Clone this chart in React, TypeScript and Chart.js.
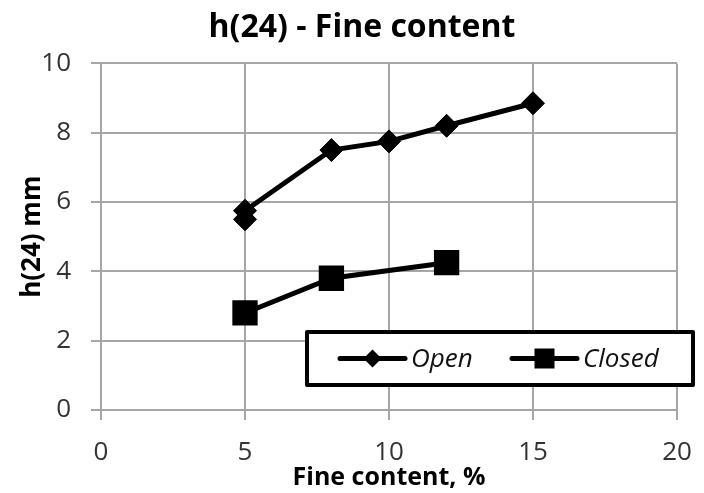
import React, { useEffect, useRef } from "react";
import { Chart, registerables } from "chart.js";

Chart.register(...registerables);

const seriesNames = ["Open", "Closed"];
const openX = [5, 5, 8, 10, 12, 15];
const openY = [5.5, 5.75, 7.5, 7.75, 8.2, 8.85];
const closedX = [5, 8, 12];
const closedY = [2.8, 3.8, 4.25];
const xTickValues = [0, 5, 10, 15, 20];
const yTickValues = [0, 2, 4, 6, 8, 10];
const titleText = "h(24) - Fine content";
const xTitle = "Fine content, %";
const yTitle = "h(24) mm";

const FONT = "'Open Sans', sans-serif";
const GRID = "#a6a6a6";

const legendPlugin = {
  id: "boxLegend",
  afterDraw(chart: any) {
    const { ctx, chartArea } = chart;
    const boxLeft = chartArea.left + 206;
    const boxRight = chartArea.right + 16;
    const boxTop = chartArea.bottom - 78;
    const boxBottom = chartArea.bottom - 25;
    ctx.save();
    ctx.fillStyle = "#ffffff";
    ctx.fillRect(boxLeft, boxTop, boxRight - boxLeft, boxBottom - boxTop);
    ctx.lineWidth = 4;
    ctx.strokeStyle = "#000000";
    ctx.lineJoin = "round";
    ctx.strokeRect(boxLeft, boxTop, boxRight - boxLeft, boxBottom - boxTop);
    const cy = (boxTop + boxBottom) / 2;
    const starts = [boxLeft + 33, boxLeft + 205];
    chart.data.datasets.forEach((ds: any, i: number) => {
      const x0 = starts[i];
      ctx.beginPath();
      ctx.moveTo(x0, cy);
      ctx.lineTo(x0 + 65, cy);
      ctx.lineWidth = 5;
      ctx.lineCap = "round";
      ctx.strokeStyle = "#000";
      ctx.stroke();
      const mx = x0 + 32.5;
      ctx.fillStyle = "#000";
      ctx.beginPath();
      if (ds.pointStyle === "rectRot") {
        const r = 9;
        ctx.moveTo(mx - r, cy);
        ctx.lineTo(mx, cy - r);
        ctx.lineTo(mx + r, cy);
        ctx.lineTo(mx, cy + r);
        ctx.closePath();
      } else {
        ctx.rect(mx - 10, cy - 10, 20, 20);
      }
      ctx.fill();
      ctx.font = `italic 26px ${FONT}`;
      ctx.fillStyle = "#111";
      ctx.textBaseline = "middle";
      ctx.textAlign = "left";
      ctx.fillText(ds.label, x0 + 71, cy + 1);
    });
    ctx.restore();
  },
};

export default function App() {
  const ref = useRef<HTMLCanvasElement | null>(null);

  useEffect(() => {
    if (!ref.current) return;
    const chart = new Chart(ref.current, {
      type: "line",
      data: {
        datasets: [
          {
            label: seriesNames[0],
            data: openX.map((x, i) => ({ x, y: openY[i] })),
            borderColor: "#000",
            backgroundColor: "#000",
            borderWidth: 5,
            pointStyle: "rectRot",
            pointRadius: 11.5,
            pointBorderWidth: 1,
            pointBackgroundColor: "#000",
            pointBorderColor: "#000",
            tension: 0,
          },
          {
            label: seriesNames[1],
            data: closedX.map((x, i) => ({ x, y: closedY[i] })),
            borderColor: "#000",
            backgroundColor: "#000",
            borderWidth: 5,
            pointStyle: "rect",
            pointRadius: 16.5,
            pointBorderWidth: 2,
            pointBackgroundColor: "#000",
            pointBorderColor: "#000",
            tension: 0,
          },
        ],
      },
      options: {
        animation: false,
        responsive: false,
        layout: { padding: { left: 20, right: 0, top: 0, bottom: 0 } },
        plugins: {
          legend: { display: false },
          tooltip: { enabled: false },
          title: {
            display: true,
            text: titleText,
            color: "#000",
            font: { family: FONT, size: 32, weight: "bold", lineHeight: 1.2 },
            padding: { top: 9, bottom: 16 },
          },
        },
        scales: {
          x: {
            type: "linear",
            min: 0,
            max: 20,
            afterBuildTicks: (s: any) => {
              s.ticks = xTickValues.map((v) => ({ value: v }));
            },
            afterFit: (s: any) => {
              s.height = 83;
              s.paddingLeft = 0;
              s.paddingRight = 0;
            },
            ticks: {
              color: "#333",
              font: { family: FONT, size: 26 },
              padding: 17,
              maxRotation: 0,
            },
            grid: { color: GRID, lineWidth: 2, tickLength: 10, tickColor: GRID },
            border: { color: GRID, width: 2 },
            title: {
              display: true,
              text: xTitle,
              color: "#000",
              font: { family: FONT, size: 25, weight: "bold", lineHeight: 1.2 },
              padding: { top: 0, bottom: 0 },
            },
          },
          y: {
            type: "linear",
            min: 0,
            max: 10,
            afterBuildTicks: (s: any) => {
              s.ticks = yTickValues.map((v) => ({ value: v }));
            },
            afterFit: (s: any) => {
              s.width = 81;
            },
            ticks: {
              color: "#333",
              font: { family: FONT, size: 26 },
              padding: 20,
            },
            grid: { color: GRID, lineWidth: 2, tickLength: 10, tickColor: GRID },
            border: { color: GRID, width: 2 },
            title: {
              display: true,
              text: yTitle,
              color: "#000",
              font: { family: FONT, size: 26, weight: "bold", lineHeight: 0.9 },
              padding: { top: 1, bottom: 0 },
            },
          },
          y2: {
            type: "linear",
            position: "right",
            min: 0,
            max: 10,
            display: true,
            afterFit: (s: any) => {
              s.width = 27;
            },
            ticks: { display: false },
            grid: { display: false },
            border: { display: false },
          },
        },
      } as any,
      plugins: [legendPlugin],
    });
    return () => chart.destroy();
  }, []);

  return (
    <div style={{ position: "absolute", left: 0, top: 0, width: 704, height: 493, background: "#fff" }}>
      <canvas ref={ref} width={704} height={493} />
    </div>
  );
}
